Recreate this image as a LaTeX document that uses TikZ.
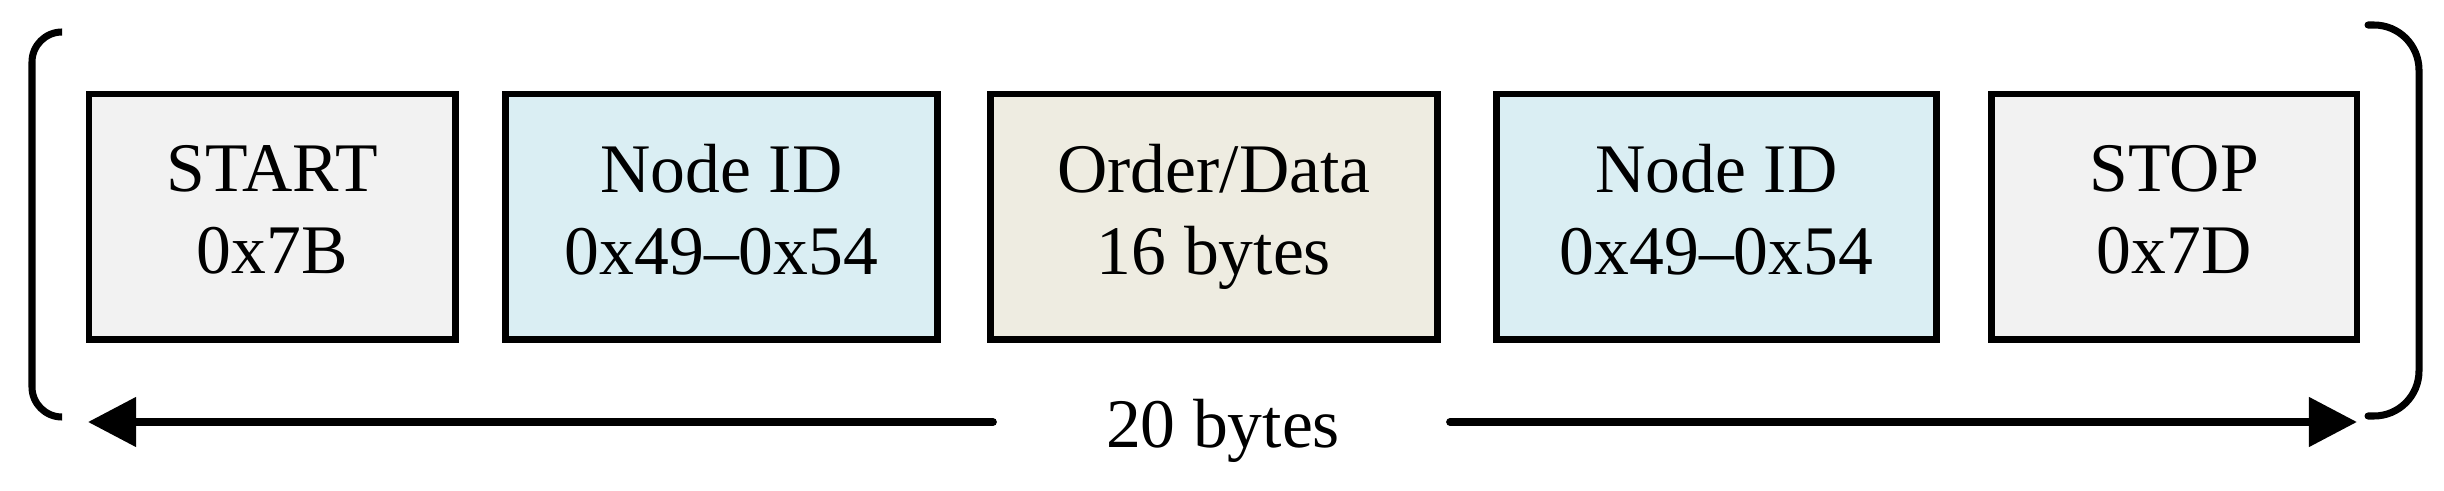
\documentclass[tikz,border=0pt]{standalone}
\usepackage{fontspec}
\setmainfont{Liberation Serif}
\usetikzlibrary{arrows.meta}
\definecolor{greyfill}{HTML}{F2F2F2}
\definecolor{bluefill}{HTML}{DAEEF3}
\definecolor{tanfill}{HTML}{EEECE1}
\begin{document}
\begin{tikzpicture}[x=0.01cm,y=-0.01cm,
  field/.style={draw=black, line width=1.85pt, minimum height=2.455cm,
    align=center, font=\fontsize{19.8}{23.3}\selectfont, inner sep=0pt, text depth=0.15cm},
  bracketline/.style={line width=2pt, line cap=round},
  spanarrow/.style={line width=2.2pt, line cap=round, -{Triangle[length=0.48cm,width=0.48cm]}}]
\useasboundingbox (0,0) rectangle (2444,491);
\node[field, fill=greyfill, minimum width=3.665cm] (start) at (272.25,216.75) {START\\0x7B};
\node[field, fill=bluefill, minimum width=4.32cm] (id1) at (721.5,216.75) {Node ID\\0x49–0x54};
\node[field, fill=tanfill, minimum width=4.47cm] (data) at (1214,216.75) {Order/Data\\16 bytes};
\node[field, fill=bluefill, minimum width=4.40cm] (id2) at (1716.5,216.75) {Node ID\\0x49–0x54};
\node[field, fill=greyfill, minimum width=3.655cm] (stop) at (2174.25,216.75) {STOP\\0x7D};
\node[anchor=base, font=\fontsize{19.8}{23.3}\selectfont, inner sep=0pt] (total) at (1223,448) {20 bytes};
\coordinate (lend) at (993,422);
\coordinate (ltip) at (88,422);
\coordinate (rend) at (1450,422);
\coordinate (rtip) at (2357,422);
\draw[spanarrow] (lend) -- (ltip);
\draw[spanarrow] (rend) -- (rtip);
\draw[bracketline, rounded corners=0.3cm] (62,32) -- (32,32) -- (32,417) -- (62,417);
\draw[bracketline, rounded corners=0.45cm] (2368,25) -- (2419,25) -- (2419,416) -- (2368,416);
\end{tikzpicture}
\end{document}
